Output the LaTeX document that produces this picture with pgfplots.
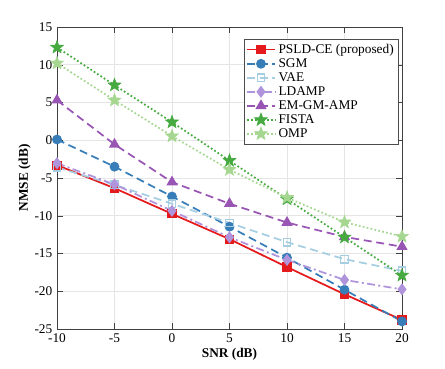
\documentclass[border=0pt]{standalone}
\usepackage{fontspec}
\setmainfont{Liberation Serif}
\usepackage{pgfplots}
\pgfplotsset{compat=1.18}
\usetikzlibrary{calc}
\definecolor{cred}{RGB}{228,26,28}
\definecolor{csgm}{RGB}{55,126,184}
\definecolor{cvae}{RGB}{166,206,227}
\definecolor{cldamp}{RGB}{175,148,220}
\definecolor{cem}{RGB}{152,85,180}
\definecolor{cfista}{RGB}{70,170,65}
\definecolor{comp}{RGB}{165,215,145}
\pgfdeclareplotmark{fstar}{%
  \pgfpathmoveto{\pgfqpointpolar{90}{\pgfplotmarksize}}%
  \pgfpathlineto{\pgfqpointpolar{126}{0.42\pgfplotmarksize}}%
  \pgfpathlineto{\pgfqpointpolar{162}{\pgfplotmarksize}}%
  \pgfpathlineto{\pgfqpointpolar{198}{0.42\pgfplotmarksize}}%
  \pgfpathlineto{\pgfqpointpolar{234}{\pgfplotmarksize}}%
  \pgfpathlineto{\pgfqpointpolar{270}{0.42\pgfplotmarksize}}%
  \pgfpathlineto{\pgfqpointpolar{306}{\pgfplotmarksize}}%
  \pgfpathlineto{\pgfqpointpolar{342}{0.42\pgfplotmarksize}}%
  \pgfpathlineto{\pgfqpointpolar{18}{\pgfplotmarksize}}%
  \pgfpathlineto{\pgfqpointpolar{54}{0.42\pgfplotmarksize}}%
  \pgfpathclose
  \pgfusepathqfillstroke}
\begin{document}
\begin{tikzpicture}
\begin{axis}[
  scale only axis,
  width=258.75pt, height=226.5pt,
  xmin=-10, xmax=20, ymin=-25, ymax=15,
  xtick={-10,-5,...,20}, ytick={-25,-20,...,15},
  grid=major,
  major grid style={gray!20, line width=0.4pt},
  axis line style={black!75, line width=0.5pt},
  tick style={black!75},
  tick align=inside,
  font=\fontsize{10}{12}\selectfont,
  /pgf/number format/assume math mode=true,
  xlabel={\textbf{SNR (dB)}},
  ylabel={\textbf{NMSE (dB)}},
  xlabel style={yshift=3pt},
  ylabel style={yshift=-4pt},
  legend style={at={(rel axis cs:1,1)}, anchor=north east, xshift=-2.5pt, yshift=-9pt,
    draw=black!70, fill=white, font=\fontsize{10}{11}\selectfont, row sep=-1.6pt,
    inner sep=1.5pt},
  legend cell align=left,
  legend image code/.code={\draw[mark repeat=2,mark phase=2] plot coordinates {(0cm,0cm) (0.37cm,0cm) (0.74cm,0cm)};},
]
\addplot[cred, line width=1.3pt, mark=square*, mark size=2.8pt, mark options={solid}]
  coordinates {(-10,-3.3) (-5,-6.35) (0,-9.75) (5,-13.1) (10,-16.8) (15,-20.4) (20,-23.8)};
\addlegendentry{PSLD-CE (proposed)}
\addplot[csgm, line width=1.3pt, dash pattern=on 6pt off 3.5pt, mark=*, mark size=3pt, mark options={solid}]
  coordinates {(-10,0.1) (-5,-3.5) (0,-7.45) (5,-11.45) (10,-15.55) (15,-19.8) (20,-24.0)};
\addlegendentry{SGM}
\addplot[cvae, line width=1.3pt, dash pattern=on 6pt off 3.5pt, mark=square, mark size=2.8pt, mark options={solid, line width=1pt}]
  coordinates {(-10,-3.6) (-5,-5.9) (0,-8.4) (5,-10.95) (10,-13.5) (15,-15.75) (20,-17.3)};
\addlegendentry{VAE}
\addplot[cldamp, line width=1.3pt, dash pattern=on 6pt off 2.5pt on 1.5pt off 2.5pt, mark=diamond*, mark size=3.5pt, mark options={solid}]
  coordinates {(-10,-3.05) (-5,-5.85) (0,-9.35) (5,-12.85) (10,-15.85) (15,-18.5) (20,-19.75)};
\addlegendentry{LDAMP}
\addplot[cem, line width=1.3pt, dash pattern=on 6pt off 3.5pt, mark=triangle*, mark size=3.6pt, mark options={solid}]
  coordinates {(-10,5.3) (-5,-0.55) (0,-5.55) (5,-8.4) (10,-10.9) (15,-12.8) (20,-14.1)};
\addlegendentry{EM-GM-AMP}
\addplot[cfista, line width=1.3pt, dash pattern=on 1.3pt off 1.7pt, mark=fstar, mark size=5pt, mark options={solid, line width=0.5pt}]
  coordinates {(-10,12.3) (-5,7.3) (0,2.4) (5,-2.7) (10,-7.8) (15,-12.85) (20,-17.9)};
\addlegendentry{FISTA}
\addplot[comp, line width=1.3pt, dash pattern=on 1.3pt off 1.7pt, mark=fstar, mark size=5pt, mark options={solid, line width=0.5pt}]
  coordinates {(-10,10.2) (-5,5.3) (0,0.55) (5,-3.9) (10,-7.6) (15,-10.85) (20,-12.75)};
\addlegendentry{OMP}
\end{axis}
\path ($(current axis.south west)+(-42.75pt,-30pt)$) rectangle ($(current axis.north east)+(32.25pt,20.25pt)$);
\end{tikzpicture}
\end{document}
